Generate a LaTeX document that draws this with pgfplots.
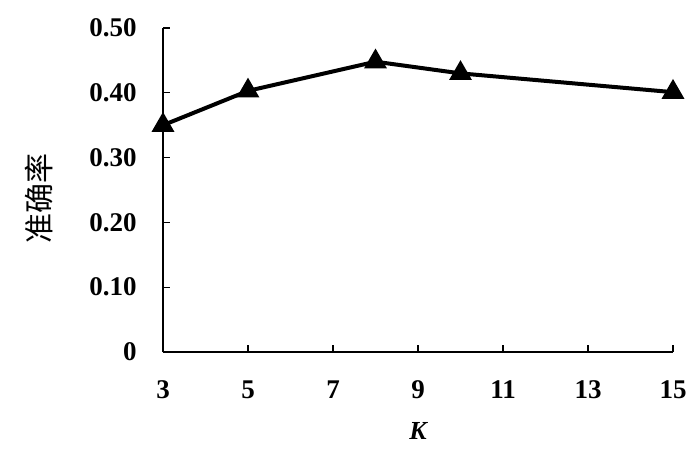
\documentclass[border=0pt]{standalone}
\usepackage{pgfplots}
\pgfplotsset{compat=1.18}
\usepackage{fontspec}
\setmainfont{Liberation Serif}
\newfontfamily\cjk{Noto Sans CJK SC}
\newcommand\tfont{\fontsize{13.5}{15}\selectfont\bfseries}
\newcommand\lfont{\fontsize{13}{15}\selectfont}
\begin{document}
\begin{tikzpicture}
\path[use as bounding box] (-81.5pt,-52.5pt) rectangle (268.5pt,176pt);
\begin{axis}[
  scale only axis,
  width=255pt, height=162pt,
  at={(0,0)}, anchor=south west,
  xmin=3, xmax=15, ymin=0, ymax=0.5,
  axis x line*=bottom, axis y line*=left,
  axis line style={line width=0.65pt},
  xtick={3,5,7,9,11,13,15},
  ytick={0,0.1,0.2,0.3,0.4,0.5},
  yticklabels={0,0.10,0.20,0.30,0.40,0.50},
  tick style={line width=0.65pt, black},
  major tick length=3.5pt,
  tick align=inside,
  /pgf/number format/assume math mode=true,
  ticklabel style={font=\tfont, inner sep=0pt},
  xticklabel style={anchor=base, yshift=-23.3pt},
  yticklabel style={anchor=east, xshift=-13pt},
  xlabel={\lfont\bfseries\itshape K},
  xlabel style={at={(axis description cs:0.5,-0.245)}, anchor=center},
  ylabel={\fontsize{15}{17}\selectfont\cjk 准确率},
  ylabel style={at={(axis description cs:-0.243,0.475)}, anchor=center},
  clip=false,
]
\addplot[black, line width=2pt, mark=triangle*, mark size=4.6pt, mark options={solid}] coordinates {
  (3,0.350) (5,0.403) (8,0.448) (10,0.430) (15,0.401)
};
\end{axis}
\end{tikzpicture}
\end{document}
